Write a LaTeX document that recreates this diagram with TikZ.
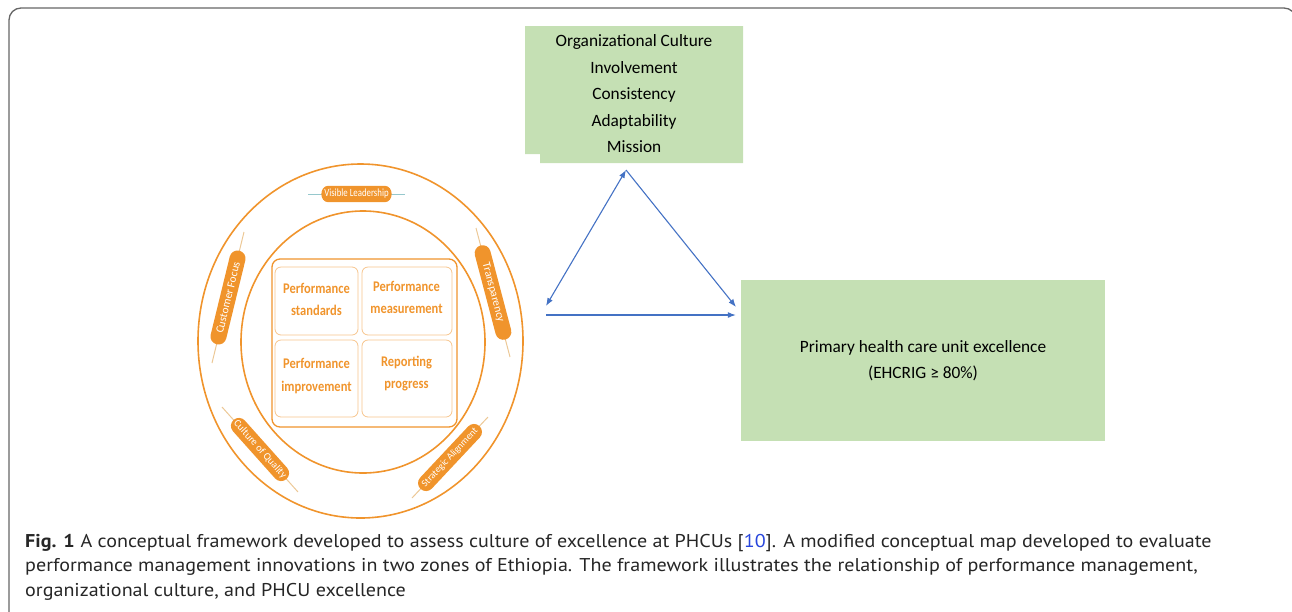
\documentclass[tikz,border=0pt]{standalone}
\usepackage{fontspec}
\setmainfont{Carlito}
\newfontfamily\capfont[FakeStretch=1.085]{PT Sans}
\usetikzlibrary{shapes.misc,arrows.meta}
\definecolor{orng}{RGB}{240,148,44}
\definecolor{orngl}{RGB}{246,196,140}
\definecolor{grn}{RGB}{197,224,180}
\definecolor{arrblue}{RGB}{68,114,196}
\definecolor{tanln}{RGB}{236,200,150}
\definecolor{tealln}{RGB}{150,200,205}
\definecolor{refblue}{RGB}{40,70,220}
\tikzset{
  greenbox/.style={fill=grn,align=center,font=\fontsize{17.3}{26.5}\selectfont},
  cellbox/.style={draw=orngl,line width=0.8pt,rounded corners=6pt},
  celltext/.style={text=orng,align=center,yscale=1.18,font=\bfseries\fontsize{12.5}{18.7}\selectfont},
  pill/.style={rounded rectangle,fill=orng,text=white,inner ysep=0pt,minimum height=16pt,
    font=\fontsize{#1}{#1}\selectfont,sloped},
  link/.style={arrblue,line width=1.1pt},
  blt/.tip={Latex[length=8pt,width=6pt]},
  captext/.style={anchor=base west,inner sep=0pt,font=\capfont\fontsize{18.5}{22}\selectfont,text=black!85}
}

\begin{document}
\begin{tikzpicture}[x=1pt,y=-1pt]
   \useasboundingbox (0,0) rectangle (1292,611);
   \clip (0,0) rectangle (1292,611);
   % frame
   \draw [black!60,line width=1.3pt,rounded corners=12pt] (9,660) -- (9,8) -- (1296,8) -- (1296,660);
   % organizational culture
   \fill [grn] (525,26) -- (743,26) -- (743,163) -- (540,163) -- (540,154) -- (525,154) -- cycle;
   \node (culture) [greenbox] at (634,94) {Organizational Culture\\Involvement\\Consistency\\Adaptability\\Mission};
   % excellence
   \node (phcu) [greenbox,minimum width=364pt,minimum height=161pt] at (923,360.5) {Primary health care unit excellence\\(EHCRIG ≥ 80\%)};
   % performance management
   \draw [orng,line width=1.6pt] (360.5,341) ellipse [x radius=162.5pt,y radius=177pt];
   \draw [orng,line width=1.6pt] (363,342) ellipse [x radius=122pt,y radius=131pt];
   \draw [orng,line width=1.3pt,rounded corners=8pt] (272,259) rectangle (457,427);
   \draw [cellbox] (275,267) rectangle (358,335);
   \draw [cellbox] (362,267) rectangle (452,335);
   \draw [cellbox] (275,340) rectangle (358,417);
   \draw [cellbox] (362,340) rectangle (452,417);
   \node (pstd) [celltext] at (316.5,299) {Performance\\standards};
   \node (pmeas) [celltext] at (406.5,297.5) {Performance\\measurement};
   \node (pimp) [celltext] at (316.5,376) {Performance\\improvement};
   \node (rprog) [celltext] at (406.5,373.5) {Reporting\\progress};
   % pills
   \draw [tealln,line width=1pt] (308,194) -- node (lead) [pill=8.8,yscale=1.25,minimum width=77pt,minimum height=13pt] {Visible Leadership} (405,194);
   \draw [tanln,line width=1pt] (212,363) -- node (cust) [pill=11.3,minimum width=103pt] {Customer Focus} (244,232);
   \draw [tanln,line width=1pt] (476,228) -- node (transp) [pill=11.3,minimum width=104pt] {Transparency} (510,357);
   \draw [tanln,line width=1pt] (222,407) -- node (qual) [pill=10.3,minimum width=86pt] {Culture of Quality} (298,492);
   \draw [tanln,line width=1pt] (412,498) -- node (strat) [pill=9.7,minimum width=86pt] {Strategic Alignment} (488,417);
   % links
   \coordinate (apex) at (626,170);
   \coordinate (lft) at (546,306);
   \coordinate (rgt) at (736,307);
   \coordinate (hlft) at (546,315);
   \draw [link,blt-blt] (lft) -- (apex);
   \draw [link,-blt] (apex) -- (rgt);
   \draw [link,-blt,shorten >=5pt] (hlft) -- (hlft -| phcu.west);
   % caption
   \node (cap1) [captext] at (25,547) {\textbf{Fig. 1}\hspace{6pt}A conceptual framework developed to assess culture of excellence at PHCUs [\textcolor{refblue}{10}]. A modified conceptual map developed to evaluate};
   \node (cap2) [captext] at (25,571) {performance management innovations in two zones of Ethiopia. The framework illustrates the relationship of performance management,};
   \node (cap3) [captext] at (25,596) {organizational culture, and PHCU excellence};
\end{tikzpicture}
\end{document}
